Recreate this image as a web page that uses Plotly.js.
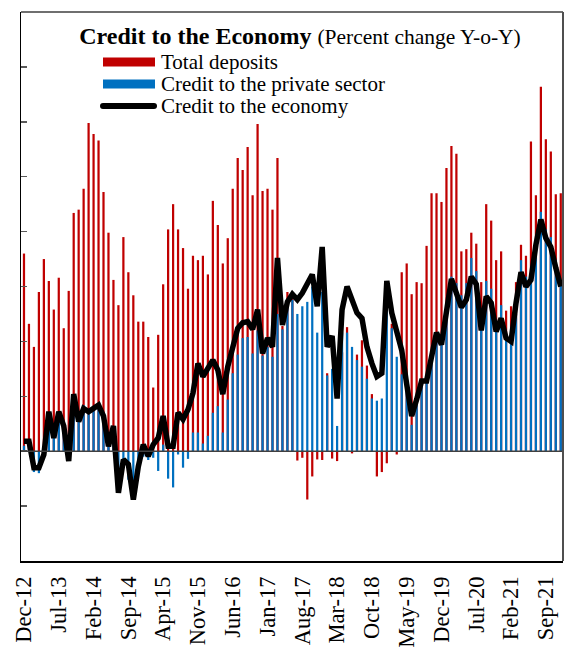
<!DOCTYPE html>
<html>
<head>
<meta charset="utf-8">
<script src="https://cdn.plot.ly/plotly-3.0.1.min.js"></script>
<style>
html,body{margin:0;padding:0;background:#fff;}
#chart{width:568px;height:650px;}
</style>
</head>
<body>
<div id="chart"></div>
<script>
// ---- Data (percent change Y-o-Y), monthly Dec-12 .. Dec-21 ----
const startYear = 2012, startMonth = 11; // December 2012 (0-based month)
const monthNames = ['Jan','Feb','Mar','Apr','May','Jun','Jul','Aug','Sep','Oct','Nov','Dec'];

const totalDeposits = [
  18.0, 11.6, 9.5, 14.5, 17.5, 15.5, 12.9, 15.8, 11.2, 14.6,
  21.7, 22.0, 23.9, 29.9, 28.9, 28.3, 23.6, 19.9, 15.6, 13.3,
  19.5, 16.3, 14.2, 11.8, 11.8, 10.4, 5.8, 10.6, 15.2, 20.2,
  22.5, 20.2, 18.5, 14.8, 17.8, 17.4, 17.8, 16.1, 22.8, 20.6,
  17.1, 19.4, 23.9, 26.7, 25.6, 27.7, 23.3, 29.8, 23.7, 23.9,
  22.0, 26.7, 11.4, 14.5, 14.0, -0.85, -0.6, -4.4, -2.3, -0.75,
  -0.8, 7.1, -0.67, -0.9, 9.0, 11.3, -0.2, 8.8, 10.1, 7.8,
  5.2, -2.3, -1.9, -1.1, 11.6, -0.3, 16.3, 17.1, 14.3, 15.4,
  15.3, 18.7, 23.5, 23.5, 22.7, 25.8, 27.8, 27.1, 18.2, 18.4,
  19.9, 18.9, 15.4, 22.5, 21.0, 17.4, 18.2, 12.8, 13.2, 15.4,
  18.8, 17.8, 28.2, 23.3, 33.2, 28.4, 27.3, 23.4, 23.5
];

const creditPrivate = [
  0.5, 0.5, -1.9, -2.0, -0.3, 3.3, 1.8, 3.2, 2.6, -0.3,
  4.2, 3.5, 4.2, 3.8, 3.8, 4.2, 3.2, 0.45, 1.7, -2.5,
  -1.5, -2.6, -4.0, -1.8, -0.5, -0.8, -0.6, -1.8, 0.6, -2.5,
  -3.3, -0.3, -1.5, -0.7, 1.7, 1.7, 0.7, 1.4, 3.5, 4.1,
  1.7, 4.7, 7.1, 8.8, 10.3, 10.4, 8.9, 11.0, 8.7, 9.5,
  8.6, 12.5, 11.1, 13.6, 13.8, 12.5, 13.2, 13.6, 15.0, 10.8,
  14.5, 6.9, 7.5, 2.3, 10.8, 10.8, 9.5, 8.3, 7.7, 6.6,
  4.8, 4.6, 4.8, 13.5, 11.2, 8.6, 7.0, 5.8, 2.4, 4.5,
  6.2, 6.3, 9.0, 10.5, 9.8, 12.9, 15.9, 15.3, 14.2, 15.3,
  17.6, 16.4, 13.0, 15.5, 14.8, 11.4, 13.3, 10.2, 9.8, 12.5,
  17.4, 15.9, 15.9, 18.6, 21.8, 20.2, 19.5, 17.4, 15.3
];

const creditEconomy = [
  0.9, 0.9, -1.5, -1.5, -0.3, 3.6, 1.2, 3.6, 2.3, -0.9,
  5.2, 2.7, 3.9, 3.6, 3.9, 4.2, 3.2, 0.45, 2.3, -3.8,
  -0.76, -1.2, -4.4, -1.4, 0.6, -0.45, 0.6, 1.2, 3.2, 0.45,
  0.45, 3.5, 2.9, 3.8, 5.3, 8.0, 6.8, 7.6, 8.3, 7.4,
  5.2, 7.7, 9.5, 11.2, 11.7, 11.8, 11.1, 12.9, 8.9, 10.3,
  9.5, 17.6, 11.5, 13.6, 14.3, 13.8, 14.4, 15.3, 16.1, 13.2,
  18.6, 9.5, 10.5, 4.8, 12.9, 15.0, 13.8, 12.6, 12.1, 9.5,
  8.0, 6.8, 7.1, 15.5, 12.6, 10.8, 9.2, 6.1, 3.2, 4.7,
  6.4, 6.4, 8.6, 10.8, 9.7, 12.6, 15.7, 14.4, 13.1, 13.8,
  15.9, 15.2, 11.0, 14.1, 13.5, 10.9, 12.1, 10.3, 10.0, 13.5,
  16.3, 15.0, 15.6, 18.8, 21.1, 19.4, 18.6, 16.7, 15.0
];

const tickLabels = ['Dec-12','Jul-13','Feb-14','Sep-14','Apr-15','Nov-15','Jun-16','Jan-17',
  'Aug-17','Mar-18','Oct-18','May-19','Dec-19','Jul-20','Feb-21','Sep-21'];

const yTicks = [-10, -5, 0, 5, 10, 15, 20, 25, 30, 35, 40];

// month category labels
const months = totalDeposits.map((_, i) => {
  const m = (startMonth + i) % 12;
  const y = startYear + Math.floor((startMonth + i) / 12);
  return monthNames[m] + '-' + String(y % 100).padStart(2, '0');
});

// ---- Layout geometry ----
const W = 568, H = 650;
const ML = 21, MR = 5, MT = 12, MB = 88.5;
const plotW = W - ML - MR, plotH = H - MT - MB;
const px = x => (x - ML) / plotW;
const py = y => 1 - (y - MT) / plotH;

const serif = 'Liberation Serif, Times New Roman, serif';
const red = '#C00000', blue = '#0070C0';

const traces = [
  {type: 'bar', name: 'Total deposits', x: months, y: totalDeposits,
   marker: {color: red, line: {width: 0}}, width: 0.45, showlegend: false, hoverinfo: 'x+y'},
  {type: 'bar', name: 'Credit to the private sector', x: months, y: creditPrivate,
   marker: {color: blue, line: {width: 0}}, width: 0.45, showlegend: false, hoverinfo: 'x+y'},
  {type: 'scatter', mode: 'lines', name: 'Credit to the economy', x: months, y: creditEconomy,
   line: {color: '#000', width: 5.5}, showlegend: false, hoverinfo: 'x+y'}
];

const legendItems = [
  {label: 'Total deposits', kind: 'bar', color: red, yc: 62},
  {label: 'Credit to the private sector', kind: 'bar', color: blue, yc: 84},
  {label: 'Credit to the economy', kind: 'line', color: '#000', yc: 106}
];

const shapes = [
  // zero line on top of bars
  {type: 'line', xref: 'paper', yref: 'y', x0: 0, x1: 1, y0: 0, y1: 0,
   line: {color: '#404040', width: 1.5}, layer: 'above'},
  // top and right frame
  {type: 'line', xref: 'paper', yref: 'paper', x0: 0, x1: 1, y0: 1, y1: 1,
   line: {color: '#6f6f6f', width: 2}},
  {type: 'line', xref: 'paper', yref: 'paper', x0: 1, x1: 1, y0: 0, y1: 1,
   line: {color: '#4f4f4f', width: 2}}
];
const annotations = [];
legendItems.forEach(it => {
  if (it.kind === 'bar') {
    shapes.push({type: 'rect', xref: 'paper', yref: 'paper',
      x0: px(103), x1: px(155), y0: py(it.yc - 4.5), y1: py(it.yc + 4.5),
      fillcolor: it.color, line: {width: 0}});
  } else {
    shapes.push({type: 'line', xref: 'paper', yref: 'paper',
      x0: px(103), x1: px(154), y0: py(it.yc), y1: py(it.yc),
      line: {color: it.color, width: 6}});
    shapes.push({type: 'circle', xref: 'paper', yref: 'paper',
      x0: px(100), x1: px(106), y0: py(it.yc - 3), y1: py(it.yc + 3),
      fillcolor: it.color, line: {width: 0}});
    shapes.push({type: 'circle', xref: 'paper', yref: 'paper',
      x0: px(151), x1: px(157), y0: py(it.yc - 3), y1: py(it.yc + 3),
      fillcolor: it.color, line: {width: 0}});
  }
  annotations.push({xref: 'paper', yref: 'paper', x: px(159), y: py(it.yc),
    xanchor: 'left', yanchor: 'middle', showarrow: false, text: it.label,
    font: {family: serif, size: 21, color: '#000'}});
});

const layout = {
  width: W, height: H,
  margin: {l: ML, r: MR, t: MT, b: MB, pad: 0},
  paper_bgcolor: '#fff', plot_bgcolor: '#fff',
  barmode: 'overlay',
  showlegend: false,
  title: {
    text: '<b>Credit to the Economy</b> <span style="font-size:21.5px">(Percent change Y-o-Y)</span>',
    font: {family: serif, size: 24, color: '#000'},
    x: 300 / W, xref: 'container', xanchor: 'center',
    y: 1 - 36 / H, yref: 'container', yanchor: 'middle'
  },
  xaxis: {
    type: 'category',
    range: [-0.6, months.length - 0.55],
    tickmode: 'array', tickvals: tickLabels, ticktext: tickLabels,
    tickangle: -90, ticks: '', showgrid: false, zeroline: false,
    showline: true, linecolor: '#000', linewidth: 1.5,
    tickfont: {family: serif, size: 22.5, color: '#000'},
    ticklabelstandoff: 5
  },
  yaxis: {
    range: [-10, 40],
    tickmode: 'array', tickvals: yTicks,
    ticks: 'inside', ticklen: 6, tickwidth: 1.5, tickcolor: '#595959',
    showticklabels: false,
    showgrid: false, zeroline: false,
    showline: true, linecolor: '#000', linewidth: 1.5
  },
  shapes: shapes,
  annotations: annotations
};

Plotly.newPlot('chart', traces, layout, {displayModeBar: false, staticPlot: true});
</script>
</body>
</html>
